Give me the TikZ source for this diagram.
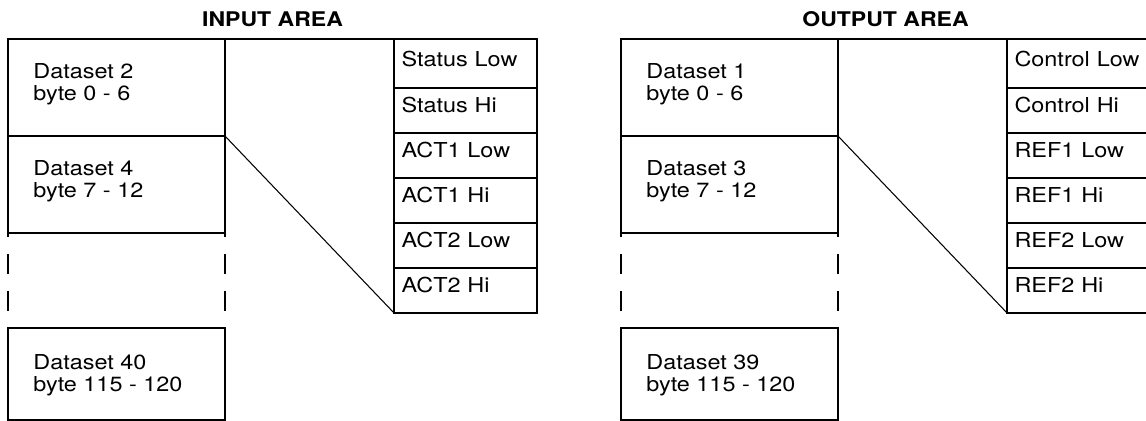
\documentclass[tikz,border=0pt]{standalone}
\usepackage{fontspec}
\setmainfont{TeX Gyre Heros}[FakeStretch=1.14]
\usetikzlibrary{positioning}

\begin{document}
\begin{tikzpicture}[
    x=0.02cm, y=-0.02cm,
    font=\fontsize{11.7}{12.8}\selectfont,
    heading/.style={font=\fontsize{11.5}{12.8}\selectfont\bfseries, inner sep=0pt},
    dataset/.style={rectangle, draw, line width=1.13pt, inner sep=0pt, outer sep=0pt, anchor=north west, minimum width=4.34cm, minimum height=1.94cm},
    datatext/.style={anchor=north west, inner sep=0pt, align=left},
    field/.style={rectangle, draw, line width=1.13pt, outer sep=0pt, inner xsep=0.15cm, inner ysep=0pt, text width=2.56cm, align=left, text height=0.3cm, text depth=0.2cm, minimum height=0.9cm},
    firstfield/.style={field, anchor=north west, minimum height=0.98cm, text depth=0.16cm},
    gap/.style={line width=1.13pt, dash pattern=on 11.34pt off 9.64pt, dash phase=9.07pt},
    rim/.style={line width=1.13pt},
    zoomline/.style={line width=0.6pt}
]
\useasboundingbox (0,0) rectangle (1146,421);
\clip (0,0) rectangle (1146,421);

% Left side - input area
\node[heading] (inhead) at (272.5,19) {INPUT AREA};

\node[dataset] (ds2) at (8,39) {};
\node[dataset] (ds4) at (8,136) {};
\node[dataset, minimum height=1.84cm] (ds40) at (8,328) {};
\node[datatext] (ds2txt) at ([xshift=0.5cm, yshift=-0.48cm]ds2.north west) {Dataset 2\\byte 0 - 6};
\node[datatext] (ds4txt) at ([xshift=0.5cm, yshift=-0.48cm]ds4.north west) {Dataset 4\\byte 7 - 12};
\node[datatext] (ds40txt) at ([xshift=0.5cm, yshift=-0.52cm]ds40.north west) {Dataset 40\\byte 115 - 120};

% gap between the datasets
\draw[gap] (ds4.south west) -- (ds40.north west);
\draw[gap] (ds4.south east) -- (ds40.north east);

% bytes of one dataset
\node[firstfield] (stlow) at (394,39) {Status Low};
\node[field, below=0pt of stlow] (sthi) {Status Hi};
\node[field, below=0pt of sthi] (act1low) {ACT1 Low};
\node[field, below=0pt of act1low] (act1hi) {ACT1 Hi};
\node[field, below=0pt of act1hi] (act2low) {ACT2 Low};
\node[field, below=0pt of act2low] (act2hi) {ACT2 Hi};

\draw[rim] (ds2.north east) -- (stlow.north west);
\draw[zoomline] (ds4.north east) -- (act2hi.south west);

% Right side - output area
\node[heading] (outhead) at (885.5,19) {OUTPUT AREA};

\node[dataset] (ds1) at (621,39) {};
\node[dataset] (ds3) at (621,136) {};
\node[dataset, minimum height=1.84cm] (ds39) at (621,328) {};
\node[datatext] (ds1txt) at ([xshift=0.5cm, yshift=-0.48cm]ds1.north west) {Dataset 1\\byte 0 - 6};
\node[datatext] (ds3txt) at ([xshift=0.5cm, yshift=-0.48cm]ds3.north west) {Dataset 3\\byte 7 - 12};
\node[datatext] (ds39txt) at ([xshift=0.5cm, yshift=-0.52cm]ds39.north west) {Dataset 39\\byte 115 - 120};

% gap between the datasets
\draw[gap] (ds3.south west) -- (ds39.north west);
\draw[gap] (ds3.south east) -- (ds39.north east);

% bytes of one dataset
\node[firstfield] (ctllow) at (1007,39) {Control Low};
\node[field, below=0pt of ctllow] (ctlhi) {Control Hi};
\node[field, below=0pt of ctlhi] (ref1low) {REF1 Low};
\node[field, below=0pt of ref1low] (ref1hi) {REF1 Hi};
\node[field, below=0pt of ref1hi] (ref2low) {REF2 Low};
\node[field, below=0pt of ref2low] (ref2hi) {REF2 Hi};

\draw[rim] (ds1.north east) -- (ctllow.north west);
\draw[zoomline] (ds3.north east) -- (ref2hi.south west);

\end{tikzpicture}
\end{document}
